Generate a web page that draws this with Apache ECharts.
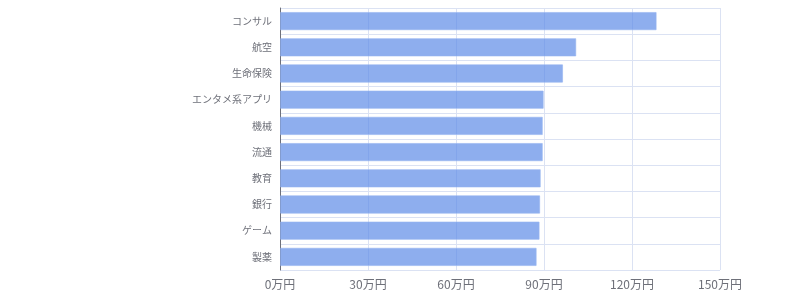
<!DOCTYPE html>
<html>
<head>
<meta charset="utf-8">
<script src="https://cdn.jsdelivr.net/npm/echarts@6/dist/echarts.min.js"></script>
<style>
  html, body { margin: 0; padding: 0; background: #fff; }
  #chart { width: 800px; height: 300px; }
</style>
</head>
<body>
<div id="chart"></div>
<script>
const industries = ["コンサル", "航空", "生命保険", "エンタメ系アプリ", "機械", "流通", "教育", "銀行", "ゲーム", "製薬"]
const salaries = [128.4, 101.0, 96.5, 89.9, 89.6, 89.6, 88.9, 88.7, 88.5, 87.5]

const chart = echarts.init(document.getElementById("chart"))
const grid = "#dbe2f3"
const muted = "#6e7079"

chart.setOption({
  animation: false,
  textStyle: { fontFamily: "Noto Sans CJK JP, sans-serif" },
  grid: { top: 8, bottom: 30, left: 280, right: 80 },
  xAxis: {
    type: "value",
    min: 0,
    max: 150,
    interval: 30,
    axisLine: { show: false },
    axisTick: { show: false },
    axisLabel: { color: muted, fontSize: 12, formatter: "{value}万円" },
    splitLine: { lineStyle: { color: grid } },
  },
  yAxis: {
    type: "category",
    data: industries,
    inverse: true,
    axisLine: { lineStyle: { color: muted } },
    axisTick: { lineStyle: { color: muted } },
    axisLabel: { color: muted, fontSize: 10 },
    splitLine: { show: true, lineStyle: { color: grid } },
  },
  series: [
    {
      type: "bar",
      data: salaries,
      barCategoryGap: "30%",
      itemStyle: {
        color: "rgba(94,139,231,0.7)",
        borderColor: "rgba(150,180,240,0.6)",
        borderWidth: 1,
      },
    },
  ],
})
</script>
</body>
</html>
